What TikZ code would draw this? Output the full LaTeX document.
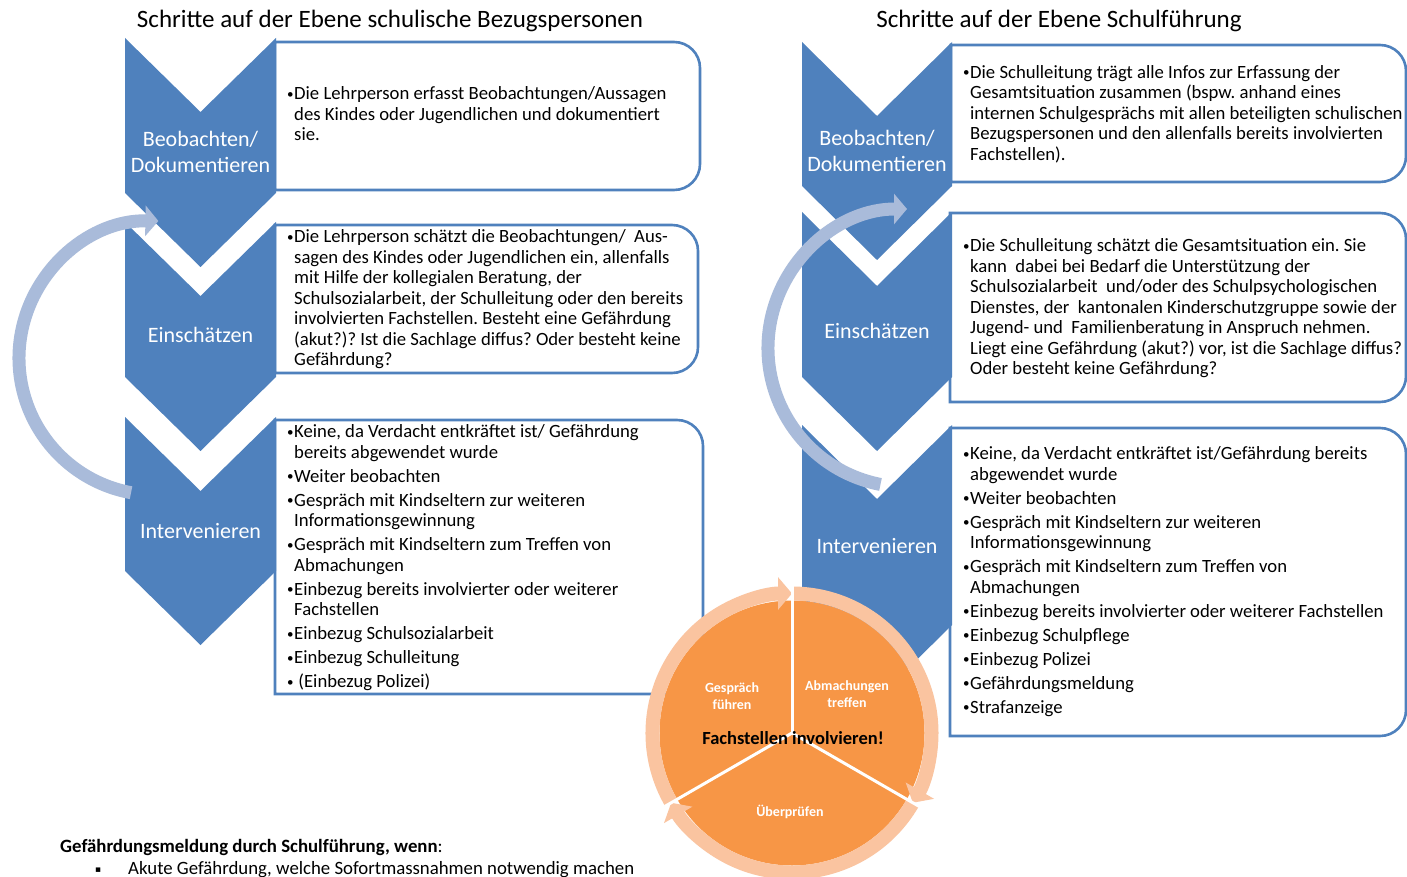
\documentclass[tikz,border=0pt]{standalone}
\usepackage{fontspec}
\setmainfont{Carlito}
\newfontfamily\dejavu{DejaVu Sans}
\usetikzlibrary{arrows.meta,calc}
\frenchspacing
\definecolor{chevblue}{HTML}{4F81BD}
\definecolor{boxblue}{HTML}{4F81BD}
\definecolor{arcblue}{HTML}{A9BBDA}
\definecolor{corange}{HTML}{F79646}
\definecolor{cpeach}{HTML}{FAC4A0}
\newcommand\bodyfs{\fontsize{18.7}{20.5}\selectfont}
\newcommand\bul{\makebox[7pt][l]{\raisebox{1.5pt}{\fontsize{13}{13}\selectfont •}}}
\newcommand\ind{\hspace*{7pt}}
\newcommand\myroundbox[4]{\draw[stepbox] (#1,#2) -- ({#3-26},#2) arc[start angle=-90,end angle=0,radius=26] -- (#3,{#4-26}) arc[start angle=0,end angle=90,radius=26] -- (#1,#4) -- cycle;}
\newcommand\mychev[4]{\fill[chev] (#1,#3) -- (#2,{#3+74}) -- ({2*#2-#1},#3) -- ({2*#2-#1},#4) -- (#2,{#4+74}) -- (#1,#4) -- cycle;}
\tikzset{
  chev/.style={fill=chevblue},
  stepbox/.style={draw=boxblue, line width=2.6pt, fill=white},
  chevlbl/.style={text=white, font=\fontsize{22}{26}\selectfont, align=center, inner sep=0pt},
  bodytxt/.style={anchor=north west, inner sep=0pt, align=left, font=\bodyfs},
  title/.style={anchor=base, inner sep=0pt, font=\fontsize{25}{30}\selectfont},
  cyc/.style={arcblue, line width=13pt, -{Triangle[width=30pt,length=13pt]}},
  ring/.style={cpeach, line width=14pt, -{Triangle[width=32pt,length=14pt]}},
  divider/.style={white, line width=3pt},
  circlbl/.style={text=white, font=\bfseries\fontsize{14}{16.5}\selectfont, align=center, inner sep=0pt},
  note/.style={anchor=base west, inner sep=0pt, font=\fontsize{18.8}{21}\selectfont},
}
\begin{document}
\begin{tikzpicture}[x=1pt,y=-1pt]
\useasboundingbox (0,0) rectangle (1407,877);
\fill[white] (0,0) rectangle (1407,877);

% titles
\node[title] (t1) at (390,28) {Schritte auf der Ebene schulische Bezugspersonen};
\node[title] (t2) at (1059,28) {Schritte auf der Ebene Schulführung};

% text boxes
\myroundbox{275}{42}{700}{190}
\myroundbox{275}{225}{698}{373}
\myroundbox{275}{420}{703}{694}
\myroundbox{951}{45}{1406}{182}
\myroundbox{950}{213}{1406}{402}
\myroundbox{950}{428}{1406}{736}

% chevrons  {xleft}{xmid}{top}{sides end}
\mychev{125}{200.5}{38}{193}
\mychev{125}{200.5}{222}{377}
\mychev{125}{200.5}{417}{571}
\mychev{802}{877}{42}{186}
\mychev{802}{877}{212}{377}
\mychev{802}{877}{425}{625}

% chevron labels
\node[chevlbl] (lb1) at (200.5,152) {Beobachten/\\Dokumentieren};
\node[chevlbl] (lb2) at (200.5,335) {Einschätzen};
\node[chevlbl] (lb3) at (200.5,531) {Intervenieren};
\node[chevlbl] (rb1) at (877,151) {Beobachten/\\Dokumentieren};
\node[chevlbl] (rb2) at (877,331) {Einschätzen};
\node[chevlbl] (rb3) at (877,546) {Intervenieren};

% box texts
\node[bodytxt] (lt1) at (287,85) {\strut\bul Die Lehrperson erfasst Beobachtungen/Aussagen\\
\ind des Kindes oder Jugendlichen und dokumentiert\\
\ind sie.};
\node[bodytxt] (lt2) at (287,228) {\strut\bul Die Lehrperson schätzt die Beobachtungen/\ \ Aus-\\
\ind sagen des Kindes oder Jugendlichen ein, allenfalls\\
\ind mit Hilfe der kollegialen Beratung, der\\
\ind Schulsozialarbeit, der Schulleitung oder den bereits\\
\ind involvierten Fachstellen. Besteht eine Gefährdung\\
\ind (akut?)? Ist die Sachlage diffus? Oder besteht keine\\
\ind Gefährdung?};
\node[bodytxt] (lt3) at (287,423) {\strut\bul Keine, da Verdacht entkräftet ist/ Gefährdung\\
\ind bereits abgewendet wurde\\[3.5pt]
\bul Weiter beobachten\\[3.5pt]
\bul Gespräch mit Kindseltern zur weiteren\\
\ind Informationsgewinnung\\[3.5pt]
\bul Gespräch mit Kindseltern zum Treffen von\\
\ind Abmachungen\\[3.5pt]
\bul Einbezug bereits involvierter oder weiterer\\
\ind Fachstellen\\[3.5pt]
\bul Einbezug Schulsozialarbeit\\[3.5pt]
\bul Einbezug Schulleitung\\[3.5pt]
\bul\ (Einbezug Polizei)};
\node[bodytxt] (rt1) at (963,63.5) {\strut\bul Die Schulleitung trägt alle Infos zur Erfassung der\\
\ind Gesamtsituation zusammen (bspw. anhand eines\\
\ind internen Schulgesprächs mit allen beteiligten schulischen\\
\ind Bezugspersonen und den allenfalls bereits involvierten\\
\ind Fachstellen).};
\node[bodytxt] (rt2) at (963,237) {\strut\bul Die Schulleitung schätzt die Gesamtsituation ein. Sie\\
\ind kann\ \ dabei bei Bedarf die Unterstützung der\\
\ind Schulsozialarbeit\ \ und/oder des Schulpsychologischen\\
\ind Dienstes, der\ \ kantonalen Kinderschutzgruppe sowie der\\
\ind Jugend- und\ \ Familienberatung in Anspruch nehmen.\\
\ind Liegt eine Gefährdung (akut?) vor, ist die Sachlage diffus?\\
\ind Oder besteht keine Gefährdung?};
\node[bodytxt] (rt3) at (963,445) {\strut\bul Keine, da Verdacht entkräftet ist/Gefährdung bereits\\
\ind abgewendet wurde\\[3.5pt]
\bul Weiter beobachten\\[3.5pt]
\bul Gespräch mit Kindseltern zur weiteren\\
\ind Informationsgewinnung\\[3.5pt]
\bul Gespräch mit Kindseltern zum Treffen von\\
\ind Abmachungen\\[3.5pt]
\bul Einbezug bereits involvierter oder weiterer Fachstellen\\[3.5pt]
\bul Einbezug Schulpflege\\[3.5pt]
\bul Einbezug Polizei\\[3.5pt]
\bul Gefährdungsmeldung\\[3.5pt]
\bul Strafanzeige};

% cycle arrows
\coordinate (lc) at (156,358);
\coordinate (rc) at (907,348);
\draw[cyc] ($(lc)+(100.5:137)$) arc[start angle=100.5,end angle=271,radius=137];
\draw[cyc] ($(rc)+(101:139)$) arc[start angle=101,end angle=270,radius=139];

% circle
\coordinate (cc) at (792,733);
\fill[corange] (cc) circle[radius=132.5];
\draw[ring] ($(cc)+(150:139.5)$) arc[start angle=150,end angle=270,radius=139.5];
\draw[ring] ($(cc)+(270:139.5)$) arc[start angle=270,end angle=390,radius=139.5];
\draw[ring] ($(cc)+(30:139.5)$) arc[start angle=30,end angle=150,radius=139.5];
\draw[divider] (cc) -- ($(cc)+(270:147)$);
\draw[divider] (cc) -- ($(cc)+(30:147)$);
\draw[divider] (cc) -- ($(cc)+(150:147)$);
\node[circlbl] (c1) at (732,696) {Gespräch\\führen};
\node[circlbl] (c2) at (847,694) {Abmachungen\\treffen};
\node[circlbl] (c3) at (790,812) {Überprüfen};
\node[inner sep=0pt, font=\bfseries\fontsize{18.5}{20}\selectfont] (c0) at (793,738) {Fachstellen involvieren!};

% note
\node[note] (m1) at (60,852) {\textbf{Gefährdungsmeldung durch Schulführung, wenn}:};
\node[note] (m2b) at (95,872) {{\dejavu\fontsize{9}{9}\selectfont ▪}};
\node[note] (m2) at (128,874) {Akute Gefährdung, welche Sofortmassnahmen notwendig machen};
\end{tikzpicture}
\end{document}
